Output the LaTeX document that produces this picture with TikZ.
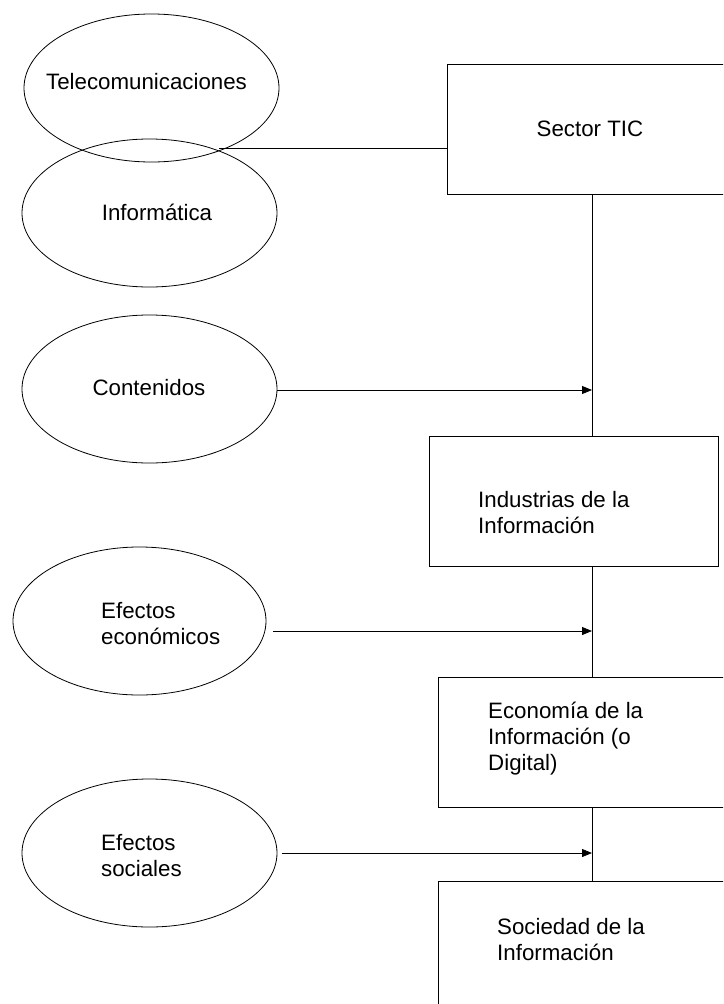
\documentclass[tikz,border=0pt]{standalone}
\usepackage{fontspec}
\setmainfont{Liberation Sans}
\usetikzlibrary{shapes.geometric,arrows.meta}
\begin{document}
\begin{tikzpicture}[x=1pt,y=-1pt,
  oval/.style={draw,line width=0.8pt,ellipse,minimum width=255pt,minimum height=148pt,inner sep=0pt},
  boxx/.style={draw,line width=0.8pt},
  txt/.style={inner sep=0pt,align=left,font=\fontsize{22.3}{26}\selectfont},
  conn/.style={line width=0.8pt},
  arr/.style={line width=0.8pt,-{Triangle[length=10pt,width=8pt]}}]
\useasboundingbox (0,0) rectangle (723,1004);
\clip (0,0) rectangle (723,1004);
% ellipses
\node[oval] (tel) at (151.5,88) {};
\node[oval] (inf) at (149.5,213) {};
\node[oval] (con) at (149.5,389) {};
\node[oval,minimum width=253pt] (eco) at (139.5,621) {};
\node[oval] (soc) at (149.5,853) {};
% boxes
\draw[boxx] (447,64) rectangle (740,194);
\node[inner sep=0pt,minimum width=293pt,minimum height=130pt] (tic) at (593.5,129) {};
\draw[boxx] (429,436) rectangle (718,566);
\node[inner sep=0pt,minimum width=289pt,minimum height=130pt] (ind) at (573.5,501) {};
\draw[boxx] (438,677) rectangle (740,807);
\node[inner sep=0pt,minimum width=302pt,minimum height=130pt] (ecn) at (589,742) {};
\draw[boxx] (438,881) rectangle (740,1020);
\node[inner sep=0pt,minimum width=302pt,minimum height=139pt] (sdi) at (589,950.5) {};
% texts
\node[txt] (tTel) at (146.5,82) {Telecomunicaciones};
\node[txt] (tInf) at (157,212) {Informática};
\node[txt] (tTic) at (590,129) {Sector TIC};
\node[txt] (tCon) at (149,388) {Contenidos};
\node[txt,anchor=west] (tInd) at (478,512.5) {Industrias de la\\Información};
\node[txt,anchor=west] (tEco) at (101,623.5) {Efectos\\económicos};
\node[txt,anchor=west] (tEcn) at (488,739) {Economía de la\\Información (o\\Digital)};
\node[txt,anchor=west] (tSoc) at (101,856) {Efectos\\sociales};
\node[txt,anchor=west] (tSdi) at (497,940) {Sociedad de la\\Información};
% connector points
\coordinate (j) at (219,148);
\coordinate (s0) at (592,194);
\coordinate (s1) at (592,436);
\coordinate (s2) at (592,566);
\coordinate (s3) at (592,677);
\coordinate (s4) at (592,807);
\coordinate (s5) at (592,881);
\coordinate (a1) at (277,390);
\coordinate (b1) at (592,390);
\coordinate (a2) at (273,631);
\coordinate (b2) at (592,631);
\coordinate (a3) at (282,853);
\coordinate (b3) at (592,853);
% connectors
\draw[conn] (j) -- (j -| tic.west);
\draw[conn] (s0) -- (s1);
\draw[conn] (s2) -- (s3);
\draw[conn] (s4) -- (s5);
\draw[arr] (a1) -- (b1);
\draw[arr] (a2) -- (b2);
\draw[arr] (a3) -- (b3);
\end{tikzpicture}
\end{document}
